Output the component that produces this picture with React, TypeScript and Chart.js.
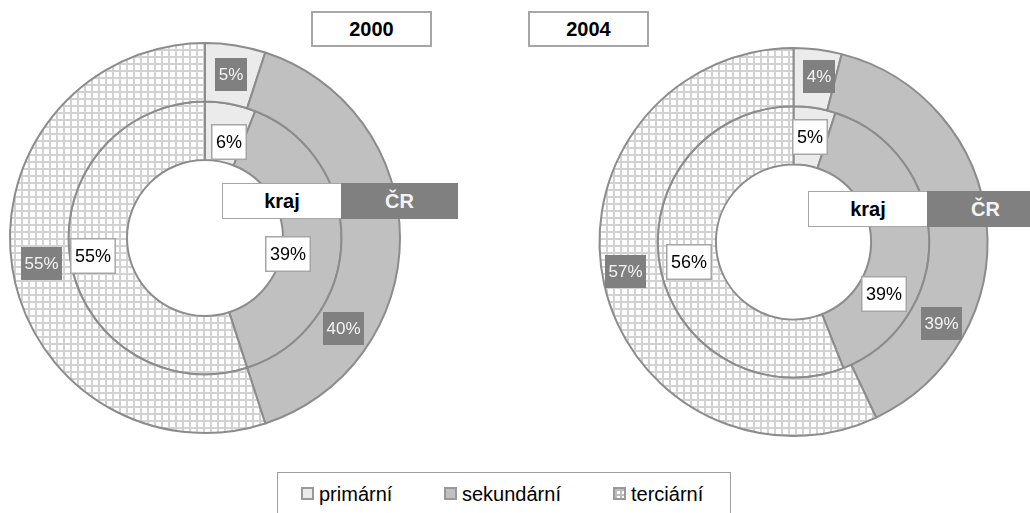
import React, { useEffect, useRef } from "react";
import { Chart, registerables } from "chart.js";

Chart.register(...registerables);

// ---- data ----
const categories = ["primární", "sekundární", "terciární"];
const ringNames = ["ČR", "kraj"];
const years = ["2000", "2004"];
const cr2000 = [5, 40, 55];
const kraj2000 = [6, 39, 55];
const cr2004 = [4, 39, 57];
const kraj2004 = [5, 39, 56];

// ---- label placement tweaks (angle shift in % of circle, radial shift px) ----
const shifts2000 = [
  [[0, 0], [9.2, 0], [0, 0]],
  [[0.9, -8], [2.5, -23], [0, 6]],
];
const shifts2004 = [
  [[0.4, 3], [9.5, 4], [0.7, 6]],
  [[0, 0], [8.8, -2], [0, 0]],
];

const FONT = '"Liberation Sans", Arial, Helvetica, sans-serif';
const BORDER = "#8c8c8c";
const C_PRIM = "#ebebeb";
const C_SEK = "#c0c0c0";
const DARK = "#808080";

function makePattern(): CanvasPattern | string {
  const c = document.createElement("canvas");
  c.width = 7;
  c.height = 7;
  const g = c.getContext("2d");
  if (!g) return "#eeeeee";
  g.fillStyle = "#ffffff";
  g.fillRect(0, 0, 7, 7);
  g.fillStyle = "#d2d2d2";
  g.fillRect(0, 0, 7, 2);
  g.fillRect(0, 0, 2, 7);
  const p = g.createPattern(c, "repeat");
  return p || "#eeeeee";
}

const boxLabels = {
  id: "boxLabels",
  afterDatasetsDraw(chart: any, _args: any, opts: any) {
    const ctx = chart.ctx as CanvasRenderingContext2D;
    ctx.save();
    chart.data.datasets.forEach((ds: any, di: number) => {
      const meta = chart.getDatasetMeta(di);
      meta.data.forEach((arc: any, j: number) => {
        const p = arc.getProps(
          ["x", "y", "startAngle", "endAngle", "innerRadius", "outerRadius"],
          true
        );
        const sh = opts.shifts[di][j];
        const a = (p.startAngle + p.endAngle) / 2 + (sh[0] / 100) * 2 * Math.PI;
        const r = (p.innerRadius + p.outerRadius) / 2 + sh[1];
        const cx = p.x + r * Math.cos(a);
        const cy = p.y + r * Math.sin(a);
        const text = ds.data[j] + "%";
        const isCR = di === 0;
        ctx.font = (isCR ? "17px " : "18px ") + FONT;
        const tw = ctx.measureText(text).width;
        const padX = isCR ? 3.5 : 5;
        const h = isCR ? 33 : 36;
        const w = tw + padX * 2;
        const x0 = Math.round(cx - w / 2);
        const y0 = Math.round(cy - h / 2);
        if (isCR) {
          ctx.fillStyle = DARK;
          ctx.fillRect(x0, y0, Math.round(w), h);
          ctx.fillStyle = "#f4f4f4";
        } else {
          ctx.fillStyle = "#ffffff";
          ctx.fillRect(x0, y0, Math.round(w), h);
          ctx.strokeStyle = "#a6a6a6";
          ctx.lineWidth = 1.5;
          ctx.strokeRect(x0 + 0.75, y0 + 0.75, Math.round(w) - 1.5, h - 1.5);
          ctx.fillStyle = "#000000";
        }
        ctx.textAlign = "center";
        ctx.textBaseline = "middle";
        ctx.fillText(text, x0 + Math.round(w) / 2, y0 + h / 2 + 1);
      });
    });
    ctx.restore();
  },
};

type DonutProps = {
  cr: number[];
  kraj: number[];
  shifts: number[][][];
  radius: number;
  padding: { left: number; right: number; top: number; bottom: number };
  left: number;
};

function Donut({ cr, kraj, shifts, radius, padding, left }: DonutProps) {
  const ref = useRef<HTMLCanvasElement | null>(null);
  useEffect(() => {
    if (!ref.current) return;
    const pat = makePattern();
    const colors = [C_PRIM, C_SEK, pat];
    const chart = new Chart(ref.current, {
      type: "doughnut",
      data: {
        labels: categories,
        datasets: [
          {
            label: ringNames[0],
            data: cr,
            backgroundColor: colors as any,
            borderColor: BORDER,
            borderWidth: 2,
          },
          {
            label: ringNames[1],
            data: kraj,
            backgroundColor: colors as any,
            borderColor: BORDER,
            borderWidth: 2,
          },
        ],
      },
      options: {
        responsive: false,
        animation: false,
        events: [],
        radius: radius,
        cutout: "40%",
        layout: { padding },
        plugins: {
          legend: { display: false },
          tooltip: { enabled: false },
          boxLabels: { shifts },
        } as any,
      } as any,
      plugins: [boxLabels],
    });
    return () => chart.destroy();
  }, []);
  return (
    <canvas
      ref={ref}
      width={515}
      height={513}
      style={{ position: "absolute", left, top: 0, width: 515, height: 513, display: "block" }}
    />
  );
}

const boxBase: React.CSSProperties = {
  position: "absolute",
  boxSizing: "border-box",
  display: "flex",
  alignItems: "center",
  justifyContent: "center",
  fontFamily: FONT,
  fontWeight: "bold",
  fontSize: 20,
};

function RingKey({ left, top }: { left: number; top: number }) {
  return (
    <>
      <div
        style={{
          ...boxBase,
          left,
          top,
          width: 120,
          height: 36,
          background: "#fff",
          border: "1.5px solid #a6a6a6",
          color: "#000",
        }}
      >
        {ringNames[1]}
      </div>
      <div
        style={{
          ...boxBase,
          left: left + 119,
          top,
          width: 117,
          height: 36,
          background: DARK,
          color: "#f4f4f4",
        }}
      >
        {ringNames[0]}
      </div>
    </>
  );
}

function Title({ left, text }: { left: number; text: string }) {
  return (
    <div
      style={{
        ...boxBase,
        left,
        top: 11,
        width: 121,
        height: 36,
        background: "#fff",
        border: "2px solid #a6a6a6",
        color: "#000",
      }}
    >
      {text}
    </div>
  );
}

const legendSwatch: React.CSSProperties[] = [
  { background: C_PRIM },
  { background: C_SEK },
  {
    backgroundColor: "#fff",
    backgroundImage:
      "linear-gradient(#bdbdbd 2px, transparent 2px), linear-gradient(90deg, #bdbdbd 2px, transparent 2px)",
    backgroundSize: "5px 5px",
  },
];
const legendX = [301, 444, 613];

export default function App() {
  useEffect(() => {
    document.body.style.margin = "0";
  }, []);
  return (
    <div
      style={{
        position: "absolute",
        left: 0,
        top: 0,
        width: 1030,
        height: 513,
        overflow: "hidden",
        background: "#fff",
      }}
    >
      <Donut
        cr={cr2000}
        kraj={kraj2000}
        shifts={shifts2000}
        radius={195}
        padding={{ left: 10, right: 115, top: 43, bottom: 80 }}
        left={0}
      />
      <Donut
        cr={cr2004}
        kraj={kraj2004}
        shifts={shifts2004}
        radius={194}
        padding={{ left: 84, right: 42, top: 48, bottom: 77 }}
        left={515}
      />
      <Title left={311} text={years[0]} />
      <Title left={528} text={years[1]} />
      <RingKey left={222} top={183} />
      <RingKey left={808} top={191} />
      <div
        style={{
          position: "absolute",
          left: 277,
          top: 472,
          width: 454,
          height: 50,
          boxSizing: "border-box",
          border: "1px solid #a0a0a0",
          background: "#fff",
        }}
      />
      {categories.map((c, i) => (
        <React.Fragment key={c}>
          <div
            style={{
              position: "absolute",
              left: legendX[i],
              top: 487,
              width: 13,
              height: 13,
              boxSizing: "border-box",
              border: "2px solid #999999",
              ...legendSwatch[i],
            }}
          />
          <div
            style={{
              position: "absolute",
              left: legendX[i] + 18,
              top: 482,
              height: 24,
              lineHeight: "24px",
              fontFamily: FONT,
              fontSize: 20,
              color: "#000",
              whiteSpace: "nowrap",
            }}
          >
            {c}
          </div>
        </React.Fragment>
      ))}
    </div>
  );
}
